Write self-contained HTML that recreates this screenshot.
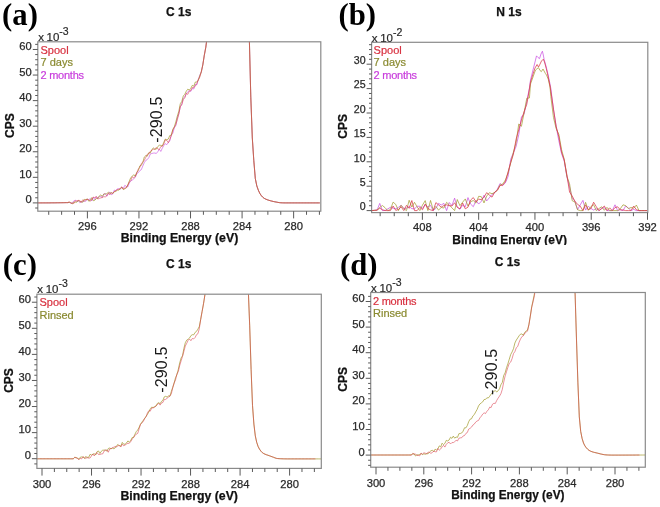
<!DOCTYPE html>
<html><head><meta charset="utf-8"><style>
html,body{margin:0;padding:0;background:#fff;width:660px;height:507px;overflow:hidden}
svg{display:block;filter:blur(0.35px)}
text{font-family:"Liberation Sans",sans-serif}
.tl{font-size:11px;fill:#2a2a2a;stroke:#2a2a2a;stroke-width:0.25px}
.tt{font-size:12px;font-weight:bold;fill:#111;stroke:#111;stroke-width:0.25px}
.ax{font-size:12px;font-weight:bold;fill:#111;stroke:#111;stroke-width:0.25px}
.lg{font-size:11px;stroke-width:0.2px}
.an{font-size:16px;letter-spacing:0.15px;fill:#1a1a1a}
.be{font-size:12.3px}
.xt{font-size:11.5px;fill:#2a2a2a;stroke:#2a2a2a;stroke-width:0.2px}
.sup{font-size:10.5px}
.pl{font-family:"Liberation Serif",serif;font-size:30.7px;font-weight:bold;fill:#000}
</style></head><body>
<svg width="660" height="507" viewBox="0 0 660 507">
<rect width="660" height="507" fill="#fff"/>
<defs></defs>
<clipPath id="ca"><rect x="37.8" y="41.8" width="283" height="169.4"/></clipPath>
<polyline clip-path="url(#ca)" points="37.8,202.9 39.3,202.9 40.8,202.9 42.3,202.89 43.8,202.89 45.3,202.88 46.8,202.88 48.3,202.87 49.8,202.86 51.3,202.84 52.8,202.83 54.3,202.82 55.8,202.8 57.3,202.78 58.8,202.76 60.3,202.74 61.8,202.72 63.3,202.7 64.8,202.67 66.3,202.64 67.8,202.61 69.3,202.48 70.8,203.1 72.3,203.02 73.8,200.89 75.3,200.22 76.8,201.42 78.3,200.85 79.8,202.7 81.3,202.06 82.8,201.5 84.3,201.11 85.8,201.24 87.3,199 88.8,199.83 90.3,198.45 91.8,200.88 93.3,197.22 94.8,199.67 96.3,196.43 97.8,198.35 99.3,196.59 100.8,196.39 102.3,197.56 103.8,193.91 105.3,193.53 106.8,196.22 108.3,194.1 109.8,191.92 111.3,194.72 112.8,193.93 114.3,190.1 115.8,190.6 117.3,188.83 118.8,188.82 120.3,189.33 121.8,187.01 123.3,188.47 124.8,185.34 126.3,186.34 127.8,186.94 129.3,182.97 130.8,180.78 132.3,179.99 133.8,178.72 135.3,177.36 136.8,173.52 138.3,172.61 139.8,170.61 141.3,169.66 142.8,165.99 144.3,162.57 145.8,160.4 147.3,159.54 148.8,157.63 150.3,154.02 151.8,153.44 153.3,153.13 154.8,153.02 156.3,153.47 157.8,151.61 159.3,149.21 160.8,151.45 162.3,148.24 163.8,145.57 165.3,143.67 166.8,144.64 168.3,142.63 169.8,140.7 171.3,135.03 172.8,133.27 174.3,127.9 175.8,125.46 177.3,118.07 178.8,113.64 180.3,107.01 181.8,103.92 183.3,98.2 184.8,96.95 186.3,93.64 187.8,91.74 189.3,90.72 190.8,91.4 192.3,88.51 193.8,89 195.3,84.39 196.8,84.86 198.3,79.6 199.8,75.11 201.3,71.86 202.8,64.88 204.3,55.25 205.8,47.28 207.3,36 208.8,36 210.3,36 211.8,36 213.3,36 214.8,36 216.3,36 217.8,36 219.3,36 220.8,36 222.3,36 223.8,36 225.3,36 226.8,36 228.3,36 229.8,36 231.3,36 232.8,36 234.3,36 235.8,36 237.3,36 238.8,36 240.3,36 241.8,36 243.3,36 244.8,36 246.3,36 247.8,36 249.3,37.11 250.8,97.29 252.3,137.86 253.8,160.6 255.3,178.5 256.8,185.87 258.3,190.15 259.8,193.37 261.3,195.59 262.8,197.27 264.3,198.38 265.8,199.15 267.3,199.76 268.8,200.27 270.3,200.71 271.8,201.12 273.3,201.48 274.8,201.79 276.3,202.07 277.8,202.36 279.3,202.62 280.8,202.78 282.3,202.84 283.8,202.88 285.3,202.9 286.8,202.9 288.3,202.9 289.8,202.9 291.3,202.9 292.8,202.9 294.3,202.9 295.8,202.9 297.3,202.9 298.8,202.9 300.3,202.9 301.8,202.9 303.3,202.9 304.8,202.9 306.3,202.9 307.8,202.9 309.3,202.9 310.8,202.9 312.3,202.9 313.8,202.9 315.3,202.9 316.8,202.9 318.3,202.9 319.8,202.9" fill="none" stroke="#c848e0" stroke-width="1.0" stroke-opacity="0.6" stroke-linejoin="round"/>
<polyline clip-path="url(#ca)" points="37.8,202.9 39.3,202.9 40.8,202.9 42.3,202.89 43.8,202.89 45.3,202.88 46.8,202.88 48.3,202.87 49.8,202.86 51.3,202.84 52.8,202.83 54.3,202.82 55.8,202.8 57.3,202.78 58.8,202.76 60.3,202.74 61.8,202.72 63.3,202.7 64.8,202.67 66.3,202.64 67.8,202.61 69.3,202.4 70.8,202.73 72.3,204 73.8,202.12 75.3,202.11 76.8,202.23 78.3,200.51 79.8,201.57 81.3,201.83 82.8,202.23 84.3,199.34 85.8,199.88 87.3,198.8 88.8,201.23 90.3,200.47 91.8,197.6 93.3,200.73 94.8,200.22 96.3,198.63 97.8,198.08 99.3,195.91 100.8,194.9 102.3,196.36 103.8,194.06 105.3,194.02 106.8,193.66 108.3,192.28 109.8,193.34 111.3,192.65 112.8,193.53 114.3,191.64 115.8,191.43 117.3,190.21 118.8,190.15 120.3,188.71 121.8,187.45 123.3,189.62 124.8,188.93 126.3,187.38 127.8,185.03 129.3,181.14 130.8,177.56 132.3,176.32 133.8,174.68 135.3,176.31 136.8,172.42 138.3,170.57 139.8,165.9 141.3,165.39 142.8,162.49 144.3,157.02 145.8,155.61 147.3,156.18 148.8,152.65 150.3,153.11 151.8,149.86 153.3,147.83 154.8,149.26 156.3,149.15 157.8,146.54 159.3,145.23 160.8,145.38 162.3,146.07 163.8,142.27 165.3,139.08 166.8,139.75 168.3,139.04 169.8,135.49 171.3,135.17 172.8,129.35 174.3,126.85 175.8,122.02 177.3,116.15 178.8,111.37 180.3,103.7 181.8,101.44 183.3,95.95 184.8,94.31 186.3,91.15 187.8,89.2 189.3,90.09 190.8,88.31 192.3,85.34 193.8,86.23 195.3,82.06 196.8,81.85 198.3,80.46 199.8,75.83 201.3,71.86 202.8,64.88 204.3,55.25 205.8,47.28 207.3,36 208.8,36 210.3,36 211.8,36 213.3,36 214.8,36 216.3,36 217.8,36 219.3,36 220.8,36 222.3,36 223.8,36 225.3,36 226.8,36 228.3,36 229.8,36 231.3,36 232.8,36 234.3,36 235.8,36 237.3,36 238.8,36 240.3,36 241.8,36 243.3,36 244.8,36 246.3,36 247.8,36 249.3,37.11 250.8,97.29 252.3,137.86 253.8,160.6 255.3,178.5 256.8,185.87 258.3,190.15 259.8,193.37 261.3,195.59 262.8,197.27 264.3,198.38 265.8,199.15 267.3,199.76 268.8,200.27 270.3,200.71 271.8,201.12 273.3,201.48 274.8,201.79 276.3,202.07 277.8,202.36 279.3,202.62 280.8,202.78 282.3,202.84 283.8,202.88 285.3,202.9 286.8,202.9 288.3,202.9 289.8,202.9 291.3,202.9 292.8,202.9 294.3,202.9 295.8,202.9 297.3,202.9 298.8,202.9 300.3,202.9 301.8,202.9 303.3,202.9 304.8,202.9 306.3,202.9 307.8,202.9 309.3,202.9 310.8,202.9 312.3,202.9 313.8,202.9 315.3,202.9 316.8,202.9 318.3,202.9 319.8,202.9" fill="none" stroke="#a09828" stroke-width="1.0" stroke-opacity="0.7" stroke-linejoin="round"/>
<polyline clip-path="url(#ca)" points="37.8,202.9 39.3,202.9 40.8,202.9 42.3,202.89 43.8,202.89 45.3,202.88 46.8,202.88 48.3,202.87 49.8,202.86 51.3,202.84 52.8,202.83 54.3,202.82 55.8,202.8 57.3,202.78 58.8,202.76 60.3,202.74 61.8,202.72 63.3,202.7 64.8,202.67 66.3,202.64 67.8,202.61 69.3,201.66 70.8,203.21 72.3,203.09 73.8,203.57 75.3,200.89 76.8,200.88 78.3,200.37 79.8,200.48 81.3,202.22 82.8,199.71 84.3,201 85.8,199.54 87.3,199.57 88.8,199.79 90.3,201.02 91.8,199.75 93.3,197.05 94.8,197.6 96.3,196.7 97.8,199.05 99.3,198.39 100.8,197.91 102.3,197.49 103.8,196.67 105.3,196.9 106.8,195.76 108.3,193.14 109.8,194.81 111.3,192.82 112.8,193.2 114.3,191.81 115.8,190.63 117.3,189.7 118.8,189.27 120.3,188.16 121.8,186.84 123.3,188.94 124.8,188.18 126.3,187.93 127.8,184.97 129.3,182.05 130.8,180.53 132.3,176.74 133.8,177.98 135.3,176.08 136.8,172.57 138.3,169.12 139.8,167.42 141.3,163.71 142.8,162.01 144.3,160.32 145.8,157.32 147.3,154.22 148.8,153.73 150.3,151.28 151.8,150.24 153.3,149.29 154.8,149.26 156.3,147.47 157.8,148.99 159.3,149.53 160.8,146.6 162.3,146.14 163.8,143.94 165.3,139.79 166.8,140.36 168.3,142.72 169.8,139.45 171.3,135.56 172.8,130.28 174.3,127.29 175.8,124.62 177.3,119.8 178.8,114.14 180.3,106.47 181.8,104.74 183.3,99.43 184.8,97.93 186.3,93.36 187.8,94.36 189.3,91.2 190.8,90.5 192.3,87.49 193.8,87.71 195.3,85.96 196.8,83.6 198.3,79.58 199.8,77.16 201.3,71.86 202.8,64.88 204.3,55.25 205.8,47.28 207.3,36 208.8,36 210.3,36 211.8,36 213.3,36 214.8,36 216.3,36 217.8,36 219.3,36 220.8,36 222.3,36 223.8,36 225.3,36 226.8,36 228.3,36 229.8,36 231.3,36 232.8,36 234.3,36 235.8,36 237.3,36 238.8,36 240.3,36 241.8,36 243.3,36 244.8,36 246.3,36 247.8,36 249.3,37.11 250.8,97.29 252.3,137.86 253.8,160.6 255.3,178.5 256.8,185.87 258.3,190.15 259.8,193.37 261.3,195.59 262.8,197.27 264.3,198.38 265.8,199.15 267.3,199.76 268.8,200.27 270.3,200.71 271.8,201.12 273.3,201.48 274.8,201.79 276.3,202.07 277.8,202.36 279.3,202.62 280.8,202.78 282.3,202.84 283.8,202.88 285.3,202.9 286.8,202.9 288.3,202.9 289.8,202.9 291.3,202.9 292.8,202.9 294.3,202.9 295.8,202.9 297.3,202.9 298.8,202.9 300.3,202.9 301.8,202.9 303.3,202.9 304.8,202.9 306.3,202.9 307.8,202.9 309.3,202.9 310.8,202.9 312.3,202.9 313.8,202.9 315.3,202.9 316.8,202.9 318.3,202.9 319.8,202.9" fill="none" stroke="#d83848" stroke-width="1.0" stroke-opacity="0.55" stroke-linejoin="round"/>
<rect x="37.8" y="41.8" width="283" height="169.4" fill="none" stroke="#8a8a8a" stroke-width="1.2"/>
<line x1="35.2" y1="208.01" x2="37.8" y2="208.01" stroke="#5a5a5a" stroke-width="1"/>
<line x1="32.8" y1="202.9" x2="37.8" y2="202.9" stroke="#5a5a5a" stroke-width="1"/>
<text x="31.8" y="203.4" text-anchor="end" class="tl" style="font-size:11.2px">0</text>
<line x1="35.2" y1="197.79" x2="37.8" y2="197.79" stroke="#5a5a5a" stroke-width="1"/>
<line x1="35.2" y1="192.67" x2="37.8" y2="192.67" stroke="#5a5a5a" stroke-width="1"/>
<line x1="35.2" y1="187.56" x2="37.8" y2="187.56" stroke="#5a5a5a" stroke-width="1"/>
<line x1="35.2" y1="182.44" x2="37.8" y2="182.44" stroke="#5a5a5a" stroke-width="1"/>
<line x1="32.8" y1="177.33" x2="37.8" y2="177.33" stroke="#5a5a5a" stroke-width="1"/>
<text x="31.8" y="177.83" text-anchor="end" class="tl" style="font-size:11.2px">10</text>
<line x1="35.2" y1="172.22" x2="37.8" y2="172.22" stroke="#5a5a5a" stroke-width="1"/>
<line x1="35.2" y1="167.1" x2="37.8" y2="167.1" stroke="#5a5a5a" stroke-width="1"/>
<line x1="35.2" y1="161.99" x2="37.8" y2="161.99" stroke="#5a5a5a" stroke-width="1"/>
<line x1="35.2" y1="156.87" x2="37.8" y2="156.87" stroke="#5a5a5a" stroke-width="1"/>
<line x1="32.8" y1="151.76" x2="37.8" y2="151.76" stroke="#5a5a5a" stroke-width="1"/>
<text x="31.8" y="152.26" text-anchor="end" class="tl" style="font-size:11.2px">20</text>
<line x1="35.2" y1="146.65" x2="37.8" y2="146.65" stroke="#5a5a5a" stroke-width="1"/>
<line x1="35.2" y1="141.53" x2="37.8" y2="141.53" stroke="#5a5a5a" stroke-width="1"/>
<line x1="35.2" y1="136.42" x2="37.8" y2="136.42" stroke="#5a5a5a" stroke-width="1"/>
<line x1="35.2" y1="131.3" x2="37.8" y2="131.3" stroke="#5a5a5a" stroke-width="1"/>
<line x1="32.8" y1="126.19" x2="37.8" y2="126.19" stroke="#5a5a5a" stroke-width="1"/>
<text x="31.8" y="126.69" text-anchor="end" class="tl" style="font-size:11.2px">30</text>
<line x1="35.2" y1="121.08" x2="37.8" y2="121.08" stroke="#5a5a5a" stroke-width="1"/>
<line x1="35.2" y1="115.96" x2="37.8" y2="115.96" stroke="#5a5a5a" stroke-width="1"/>
<line x1="35.2" y1="110.85" x2="37.8" y2="110.85" stroke="#5a5a5a" stroke-width="1"/>
<line x1="35.2" y1="105.73" x2="37.8" y2="105.73" stroke="#5a5a5a" stroke-width="1"/>
<line x1="32.8" y1="100.62" x2="37.8" y2="100.62" stroke="#5a5a5a" stroke-width="1"/>
<text x="31.8" y="101.12" text-anchor="end" class="tl" style="font-size:11.2px">40</text>
<line x1="35.2" y1="95.51" x2="37.8" y2="95.51" stroke="#5a5a5a" stroke-width="1"/>
<line x1="35.2" y1="90.39" x2="37.8" y2="90.39" stroke="#5a5a5a" stroke-width="1"/>
<line x1="35.2" y1="85.28" x2="37.8" y2="85.28" stroke="#5a5a5a" stroke-width="1"/>
<line x1="35.2" y1="80.16" x2="37.8" y2="80.16" stroke="#5a5a5a" stroke-width="1"/>
<line x1="32.8" y1="75.05" x2="37.8" y2="75.05" stroke="#5a5a5a" stroke-width="1"/>
<text x="31.8" y="75.55" text-anchor="end" class="tl" style="font-size:11.2px">50</text>
<line x1="35.2" y1="69.94" x2="37.8" y2="69.94" stroke="#5a5a5a" stroke-width="1"/>
<line x1="35.2" y1="64.82" x2="37.8" y2="64.82" stroke="#5a5a5a" stroke-width="1"/>
<line x1="35.2" y1="59.71" x2="37.8" y2="59.71" stroke="#5a5a5a" stroke-width="1"/>
<line x1="35.2" y1="54.59" x2="37.8" y2="54.59" stroke="#5a5a5a" stroke-width="1"/>
<line x1="32.8" y1="49.48" x2="37.8" y2="49.48" stroke="#5a5a5a" stroke-width="1"/>
<text x="31.8" y="49.98" text-anchor="end" class="tl" style="font-size:11.2px">60</text>
<line x1="35.2" y1="44.37" x2="37.8" y2="44.37" stroke="#5a5a5a" stroke-width="1"/>
<line x1="319.42" y1="211.2" x2="319.42" y2="214.8" stroke="#5a5a5a" stroke-width="1"/>
<line x1="306.53" y1="211.2" x2="306.53" y2="214.8" stroke="#5a5a5a" stroke-width="1"/>
<line x1="293.64" y1="211.2" x2="293.64" y2="218.4" stroke="#5a5a5a" stroke-width="1"/>
<text x="293.64" y="229.5" text-anchor="middle" class="tl" style="font-size:11.2px">280</text>
<line x1="280.75" y1="211.2" x2="280.75" y2="214.8" stroke="#5a5a5a" stroke-width="1"/>
<line x1="267.86" y1="211.2" x2="267.86" y2="214.8" stroke="#5a5a5a" stroke-width="1"/>
<line x1="254.97" y1="211.2" x2="254.97" y2="214.8" stroke="#5a5a5a" stroke-width="1"/>
<line x1="242.08" y1="211.2" x2="242.08" y2="218.4" stroke="#5a5a5a" stroke-width="1"/>
<text x="242.08" y="229.5" text-anchor="middle" class="tl" style="font-size:11.2px">284</text>
<line x1="229.19" y1="211.2" x2="229.19" y2="214.8" stroke="#5a5a5a" stroke-width="1"/>
<line x1="216.3" y1="211.2" x2="216.3" y2="214.8" stroke="#5a5a5a" stroke-width="1"/>
<line x1="203.41" y1="211.2" x2="203.41" y2="214.8" stroke="#5a5a5a" stroke-width="1"/>
<line x1="190.52" y1="211.2" x2="190.52" y2="218.4" stroke="#5a5a5a" stroke-width="1"/>
<text x="190.52" y="229.5" text-anchor="middle" class="tl" style="font-size:11.2px">288</text>
<line x1="177.63" y1="211.2" x2="177.63" y2="214.8" stroke="#5a5a5a" stroke-width="1"/>
<line x1="164.74" y1="211.2" x2="164.74" y2="214.8" stroke="#5a5a5a" stroke-width="1"/>
<line x1="151.85" y1="211.2" x2="151.85" y2="214.8" stroke="#5a5a5a" stroke-width="1"/>
<line x1="138.96" y1="211.2" x2="138.96" y2="218.4" stroke="#5a5a5a" stroke-width="1"/>
<text x="138.96" y="229.5" text-anchor="middle" class="tl" style="font-size:11.2px">292</text>
<line x1="126.07" y1="211.2" x2="126.07" y2="214.8" stroke="#5a5a5a" stroke-width="1"/>
<line x1="113.18" y1="211.2" x2="113.18" y2="214.8" stroke="#5a5a5a" stroke-width="1"/>
<line x1="100.29" y1="211.2" x2="100.29" y2="214.8" stroke="#5a5a5a" stroke-width="1"/>
<line x1="87.4" y1="211.2" x2="87.4" y2="218.4" stroke="#5a5a5a" stroke-width="1"/>
<text x="87.4" y="229.5" text-anchor="middle" class="tl" style="font-size:11.2px">296</text>
<line x1="74.51" y1="211.2" x2="74.51" y2="214.8" stroke="#5a5a5a" stroke-width="1"/>
<line x1="61.62" y1="211.2" x2="61.62" y2="214.8" stroke="#5a5a5a" stroke-width="1"/>
<line x1="48.73" y1="211.2" x2="48.73" y2="214.8" stroke="#5a5a5a" stroke-width="1"/>
<clipPath id="cb"><rect x="371.6" y="42.3" width="276.2" height="170.3"/></clipPath>
<polyline clip-path="url(#cb)" points="371.73,210.6 374.4,210.37 377.07,210.14 379.75,203.4 382.42,210.6 385.09,210.48 387.77,208.91 390.44,207.27 393.11,208.18 395.79,208.89 398.46,207.35 401.13,205.27 403.81,208.39 406.48,208.24 409.15,206.5 411.83,208.68 414.5,208.85 417.17,206.28 419.85,206.29 422.52,208.42 425.19,204.48 427.87,206.9 430.54,205.32 433.21,210.6 435.89,208.33 438.56,203.42 441.23,204.99 443.91,203.39 446.58,210.6 449.25,202.53 451.93,205.52 454.6,198.17 457.27,207.32 459.95,209.25 462.62,205.21 465.29,206.77 467.97,197.6 470.64,204.09 473.31,206.72 475.99,200.45 478.66,204.05 481.33,201.28 484.01,195.24 486.68,200.97 489.35,197.7 492.03,194.4 494.7,192.72 497.37,189.23 500.05,183.47 502.72,185.46 505.39,182.82 508.07,176.47 510.74,159.12 513.41,152.72 516.09,146.57 518.76,134.67 521.43,116.97 524.11,114 526.78,101.54 529.45,87.8 530.5,80 533,70 535,62 536.5,55.9 538,57.5 539.5,58.6 541,54 542.4,51.2 543.3,55 544.2,59.8 546,66 547.8,73.4 550,84 550.84,88.42 553.51,109.93 556.19,126.84 558.86,140.89 561.53,153.33 564.21,161.07 566.88,176.72 569.55,186.8 572.23,198.46 574.9,201.02 577.57,209.67 580.25,204.86 582.92,200.36 585.59,210.1 588.27,206.32 590.94,208.47 593.61,210.07 596.29,208.68 598.96,210.6 601.63,208.17 604.31,207.66 606.98,210.6 609.65,210.6 612.32,210.6 615,204.81 617.67,210.6 620.34,209.76 623.02,210.6 625.69,205.95 628.36,208.06 631.04,210.6 633.71,209.4 636.38,210.6 639.06,210.6 641.73,210.6 644.4,210.6 647.08,210.6" fill="none" stroke="#c848e0" stroke-width="1.0" stroke-opacity="0.7" stroke-linejoin="round"/>
<polyline clip-path="url(#cb)" points="371.73,210.6 374.4,210.37 377.07,210.14 379.75,207.47 382.42,205.5 385.09,207.71 387.77,210.6 390.44,209.45 393.11,202.12 395.79,204.46 398.46,210.6 401.13,205.32 403.81,208.71 406.48,210.6 409.15,200.25 411.83,207.04 414.5,202.33 417.17,206.98 419.85,210.6 422.52,205.05 425.19,200.62 427.87,210.6 430.54,200.46 433.21,210 435.89,206.39 438.56,210.1 441.23,207.46 443.91,208.06 446.58,202.33 449.25,204.86 451.93,207.86 454.6,210.6 457.27,199.56 459.95,205.65 462.62,202.21 465.29,198.93 467.97,206.09 470.64,201.63 473.31,200.58 475.99,203.17 478.66,196.3 481.33,196.68 484.01,202.93 486.68,196.1 489.35,192.71 492.03,193.69 494.7,192.39 497.37,190.26 500.05,184.92 502.72,184.07 505.39,180 508.07,173.05 510.74,162.81 513.41,152.14 516.09,142.63 518.76,123.99 521.43,126.31 524.11,112.67 526.78,98.24 529.45,97.93 530.5,84 533,77 535.5,70 538.5,67.6 540,70.5 541.4,71.6 543,69 545.4,73.5 546.5,75 548.3,79.4 550,87 550.84,96.58 553.51,117.65 556.19,128.65 558.86,134.41 561.53,149.4 564.21,159.29 566.88,176.26 569.55,183.75 572.23,200.78 574.9,201.92 577.57,209.77 580.25,210.6 582.92,210.6 585.59,202.33 588.27,210.27 590.94,206.49 593.61,204.7 596.29,210.6 598.96,208.55 601.63,206.75 604.31,210.31 606.98,207.34 609.65,210.6 612.32,210.6 615,210.6 617.67,210.6 620.34,208.74 623.02,204.82 625.69,205.66 628.36,208.59 631.04,207.51 633.71,208.26 636.38,205.07 639.06,210.6 641.73,210.6 644.4,210.6 647.08,210.6" fill="none" stroke="#a09828" stroke-width="1.0" stroke-opacity="0.7" stroke-linejoin="round"/>
<polyline clip-path="url(#cb)" points="371.73,210.6 374.4,210.37 377.07,210.14 379.75,208.2 382.42,209.78 385.09,210.53 387.77,210.6 390.44,210.6 393.11,206.04 395.79,210.39 398.46,209.47 401.13,206.88 403.81,210.6 406.48,205.32 409.15,208.32 411.83,200.54 414.5,210.6 417.17,210.6 419.85,207.31 422.52,209.77 425.19,204.18 427.87,208.49 430.54,209.89 433.21,210.6 435.89,202.61 438.56,204.85 441.23,207.13 443.91,205.52 446.58,204.82 449.25,205.67 451.93,205.96 454.6,202.78 457.27,207.24 459.95,208.74 462.62,202.97 465.29,208.81 467.97,207.17 470.64,200.03 473.31,197.6 475.99,201.83 478.66,199.18 481.33,199.64 484.01,197.19 486.68,192.65 489.35,195.06 492.03,197.13 494.7,192.17 497.37,190.28 500.05,185.6 502.72,185.18 505.39,181.7 508.07,171.86 510.74,162.4 513.41,154.22 516.09,139.22 518.76,129.81 521.43,120.14 524.11,111.45 526.78,104.3 529.45,88.86 530.5,82 533,74 535,68 537.1,64.5 538.5,67 540,64.1 541.5,61 543.3,59.2 544.5,62 546.3,68.7 548,76 550,86 550.84,91.17 553.51,109.19 556.19,126.64 558.86,136.92 561.53,152.12 564.21,159.87 566.88,174.88 569.55,192.03 572.23,196.05 574.9,201.16 577.57,204.39 580.25,206.19 582.92,210.6 585.59,204.88 588.27,209.76 590.94,208.59 593.61,202.23 596.29,206.73 598.96,210.6 601.63,208.66 604.31,206 606.98,210.6 609.65,207.83 612.32,210.6 615,207.62 617.67,206.81 620.34,209.9 623.02,209.95 625.69,210.6 628.36,210.6 631.04,210.6 633.71,206.03 636.38,209.71 639.06,210.6 641.73,210.6 644.4,210.6 647.08,210.6" fill="none" stroke="#d83848" stroke-width="1.0" stroke-opacity="0.75" stroke-linejoin="round"/>
<rect x="371.6" y="42.3" width="276.2" height="170.3" fill="none" stroke="#8a8a8a" stroke-width="1.2"/>
<line x1="366.6" y1="210.6" x2="371.6" y2="210.6" stroke="#5a5a5a" stroke-width="1"/>
<text x="365.6" y="210.3" text-anchor="end" class="tl" style="font-size:10.6px">0</text>
<line x1="369" y1="205.72" x2="371.6" y2="205.72" stroke="#5a5a5a" stroke-width="1"/>
<line x1="369" y1="200.84" x2="371.6" y2="200.84" stroke="#5a5a5a" stroke-width="1"/>
<line x1="369" y1="195.96" x2="371.6" y2="195.96" stroke="#5a5a5a" stroke-width="1"/>
<line x1="369" y1="191.08" x2="371.6" y2="191.08" stroke="#5a5a5a" stroke-width="1"/>
<line x1="366.6" y1="186.2" x2="371.6" y2="186.2" stroke="#5a5a5a" stroke-width="1"/>
<text x="365.6" y="185.9" text-anchor="end" class="tl" style="font-size:10.6px">5</text>
<line x1="369" y1="181.32" x2="371.6" y2="181.32" stroke="#5a5a5a" stroke-width="1"/>
<line x1="369" y1="176.44" x2="371.6" y2="176.44" stroke="#5a5a5a" stroke-width="1"/>
<line x1="369" y1="171.56" x2="371.6" y2="171.56" stroke="#5a5a5a" stroke-width="1"/>
<line x1="369" y1="166.68" x2="371.6" y2="166.68" stroke="#5a5a5a" stroke-width="1"/>
<line x1="366.6" y1="161.8" x2="371.6" y2="161.8" stroke="#5a5a5a" stroke-width="1"/>
<text x="365.6" y="161.5" text-anchor="end" class="tl" style="font-size:10.6px">10</text>
<line x1="369" y1="156.92" x2="371.6" y2="156.92" stroke="#5a5a5a" stroke-width="1"/>
<line x1="369" y1="152.04" x2="371.6" y2="152.04" stroke="#5a5a5a" stroke-width="1"/>
<line x1="369" y1="147.16" x2="371.6" y2="147.16" stroke="#5a5a5a" stroke-width="1"/>
<line x1="369" y1="142.28" x2="371.6" y2="142.28" stroke="#5a5a5a" stroke-width="1"/>
<line x1="366.6" y1="137.4" x2="371.6" y2="137.4" stroke="#5a5a5a" stroke-width="1"/>
<text x="365.6" y="137.1" text-anchor="end" class="tl" style="font-size:10.6px">15</text>
<line x1="369" y1="132.52" x2="371.6" y2="132.52" stroke="#5a5a5a" stroke-width="1"/>
<line x1="369" y1="127.64" x2="371.6" y2="127.64" stroke="#5a5a5a" stroke-width="1"/>
<line x1="369" y1="122.76" x2="371.6" y2="122.76" stroke="#5a5a5a" stroke-width="1"/>
<line x1="369" y1="117.88" x2="371.6" y2="117.88" stroke="#5a5a5a" stroke-width="1"/>
<line x1="366.6" y1="113" x2="371.6" y2="113" stroke="#5a5a5a" stroke-width="1"/>
<text x="365.6" y="112.7" text-anchor="end" class="tl" style="font-size:10.6px">20</text>
<line x1="369" y1="108.12" x2="371.6" y2="108.12" stroke="#5a5a5a" stroke-width="1"/>
<line x1="369" y1="103.24" x2="371.6" y2="103.24" stroke="#5a5a5a" stroke-width="1"/>
<line x1="369" y1="98.36" x2="371.6" y2="98.36" stroke="#5a5a5a" stroke-width="1"/>
<line x1="369" y1="93.48" x2="371.6" y2="93.48" stroke="#5a5a5a" stroke-width="1"/>
<line x1="366.6" y1="88.6" x2="371.6" y2="88.6" stroke="#5a5a5a" stroke-width="1"/>
<text x="365.6" y="88.3" text-anchor="end" class="tl" style="font-size:10.6px">25</text>
<line x1="369" y1="83.72" x2="371.6" y2="83.72" stroke="#5a5a5a" stroke-width="1"/>
<line x1="369" y1="78.84" x2="371.6" y2="78.84" stroke="#5a5a5a" stroke-width="1"/>
<line x1="369" y1="73.96" x2="371.6" y2="73.96" stroke="#5a5a5a" stroke-width="1"/>
<line x1="369" y1="69.08" x2="371.6" y2="69.08" stroke="#5a5a5a" stroke-width="1"/>
<line x1="366.6" y1="64.2" x2="371.6" y2="64.2" stroke="#5a5a5a" stroke-width="1"/>
<text x="365.6" y="63.9" text-anchor="end" class="tl" style="font-size:10.6px">30</text>
<line x1="369" y1="59.32" x2="371.6" y2="59.32" stroke="#5a5a5a" stroke-width="1"/>
<line x1="369" y1="54.44" x2="371.6" y2="54.44" stroke="#5a5a5a" stroke-width="1"/>
<line x1="369" y1="49.56" x2="371.6" y2="49.56" stroke="#5a5a5a" stroke-width="1"/>
<line x1="369" y1="44.68" x2="371.6" y2="44.68" stroke="#5a5a5a" stroke-width="1"/>
<line x1="647.5" y1="212.6" x2="647.5" y2="219.8" stroke="#5a5a5a" stroke-width="1"/>
<text x="647.5" y="230.5" text-anchor="middle" class="tl" style="font-size:11.2px">392</text>
<line x1="633.43" y1="212.6" x2="633.43" y2="216.2" stroke="#5a5a5a" stroke-width="1"/>
<line x1="619.36" y1="212.6" x2="619.36" y2="216.2" stroke="#5a5a5a" stroke-width="1"/>
<line x1="605.29" y1="212.6" x2="605.29" y2="216.2" stroke="#5a5a5a" stroke-width="1"/>
<line x1="591.22" y1="212.6" x2="591.22" y2="219.8" stroke="#5a5a5a" stroke-width="1"/>
<text x="591.22" y="230.5" text-anchor="middle" class="tl" style="font-size:11.2px">396</text>
<line x1="577.15" y1="212.6" x2="577.15" y2="216.2" stroke="#5a5a5a" stroke-width="1"/>
<line x1="563.08" y1="212.6" x2="563.08" y2="216.2" stroke="#5a5a5a" stroke-width="1"/>
<line x1="549.01" y1="212.6" x2="549.01" y2="216.2" stroke="#5a5a5a" stroke-width="1"/>
<line x1="534.94" y1="212.6" x2="534.94" y2="219.8" stroke="#5a5a5a" stroke-width="1"/>
<text x="534.94" y="230.5" text-anchor="middle" class="tl" style="font-size:11.2px">400</text>
<line x1="520.87" y1="212.6" x2="520.87" y2="216.2" stroke="#5a5a5a" stroke-width="1"/>
<line x1="506.8" y1="212.6" x2="506.8" y2="216.2" stroke="#5a5a5a" stroke-width="1"/>
<line x1="492.73" y1="212.6" x2="492.73" y2="216.2" stroke="#5a5a5a" stroke-width="1"/>
<line x1="478.66" y1="212.6" x2="478.66" y2="219.8" stroke="#5a5a5a" stroke-width="1"/>
<text x="478.66" y="230.5" text-anchor="middle" class="tl" style="font-size:11.2px">404</text>
<line x1="464.59" y1="212.6" x2="464.59" y2="216.2" stroke="#5a5a5a" stroke-width="1"/>
<line x1="450.52" y1="212.6" x2="450.52" y2="216.2" stroke="#5a5a5a" stroke-width="1"/>
<line x1="436.45" y1="212.6" x2="436.45" y2="216.2" stroke="#5a5a5a" stroke-width="1"/>
<line x1="422.38" y1="212.6" x2="422.38" y2="219.8" stroke="#5a5a5a" stroke-width="1"/>
<text x="422.38" y="230.5" text-anchor="middle" class="tl" style="font-size:11.2px">408</text>
<line x1="408.31" y1="212.6" x2="408.31" y2="216.2" stroke="#5a5a5a" stroke-width="1"/>
<line x1="394.24" y1="212.6" x2="394.24" y2="216.2" stroke="#5a5a5a" stroke-width="1"/>
<line x1="380.17" y1="212.6" x2="380.17" y2="216.2" stroke="#5a5a5a" stroke-width="1"/>
<clipPath id="cc"><rect x="36.9" y="294.2" width="284.4" height="174.2"/></clipPath>
<polyline clip-path="url(#cc)" points="36.9,458.8 38.3,458.8 39.7,458.8 41.1,458.8 42.5,458.8 43.9,458.8 45.3,458.8 46.7,458.8 48.1,458.8 49.5,458.8 50.9,458.8 52.3,458.8 53.7,458.8 55.1,458.8 56.5,458.8 57.9,458.8 59.3,458.8 60.7,458.8 62.1,458.8 63.5,458.8 64.9,458.8 66.3,458.8 67.7,458.8 69.1,458.8 70.5,458.8 71.9,458.8 73.3,458.8 74.7,457.24 76.1,457.53 77.5,458.34 78.9,459.14 80.3,457.22 81.7,456.93 83.1,457.08 84.5,458.52 85.9,456.3 87.3,457.92 88.7,457.27 90.1,454.3 91.5,455.04 92.9,454.21 94.3,453.59 95.7,454.99 97.1,451.65 98.5,450.97 99.9,453.47 101.3,451.31 102.7,450.2 104.1,450.18 105.5,449.86 106.9,451.31 108.3,448.49 109.7,448.04 111.1,448.73 112.5,448.08 113.9,448.78 115.3,447.77 116.7,445.57 118.1,444.46 119.5,445.93 120.9,445.93 122.3,442.41 123.7,444.23 125.1,444.18 126.5,442.96 127.9,440.94 129.3,442.03 130.7,440.74 132.1,437.62 133.5,437.41 134.9,434.27 136.3,431.57 137.7,430.04 139.1,427.29 140.5,424.18 141.9,422.13 143.3,420.31 144.7,418.49 146.1,416.34 147.5,414.27 148.9,411.73 150.3,408.7 151.7,407.13 153.1,407.6 154.5,406.58 155.9,406.25 157.3,403.47 158.7,402.66 160.1,403.72 161.5,401.37 162.9,400.33 164.3,396.83 165.7,396.32 167.1,397.1 168.5,395.89 169.9,396.26 171.3,391.54 172.7,387.44 174.1,383.15 175.5,377.76 176.9,374.71 178.3,369.35 179.7,363.02 181.1,357.98 182.5,355.72 183.9,348.37 185.3,342.74 186.7,340.13 188.1,339.24 189.5,338.14 190.9,335.66 192.3,334.68 193.7,334.85 195.1,332.38 196.5,331.37 197.9,329.15 199.3,326.48 200.7,319.32 202.1,311.49 203.5,303.8 204.9,294.94 206.3,282.15 207.7,281.82 209.1,281.64 210.5,281.48 211.9,281.32 213.3,281.18 214.7,281.05 216.1,280.92 217.5,280.81 218.9,280.71 220.3,280.62 221.7,280.53 223.1,280.45 224.5,280.38 225.9,280.32 227.3,280.27 228.7,280.22 230.1,280.18 231.5,280.14 232.9,280.11 234.3,280.08 235.7,280.06 237.1,280.04 238.5,280.03 239.9,280.02 241.3,280.01 242.7,280.01 244.1,280 245.5,280 246.9,280 248.3,289.99 249.7,325.83 251.1,369.49 252.5,405.36 253.9,424.08 255.3,435.89 256.7,442.3 258.1,446.45 259.5,449.18 260.9,451.14 262.3,452.61 263.7,453.55 265.1,454.23 266.5,454.76 267.9,455.23 269.3,455.72 270.7,456.26 272.1,456.77 273.5,457.27 274.9,457.83 276.3,458.33 277.7,458.55 279.1,458.66 280.5,458.73 281.9,458.79 283.3,458.83 284.7,458.87 286.1,458.89 287.5,458.9 288.9,458.9 290.3,458.9 291.7,458.9 293.1,458.9 294.5,458.9 295.9,458.9 297.3,458.9 298.7,458.9 300.1,458.9 301.5,458.9 302.9,458.9 304.3,458.9 305.7,458.9 307.1,458.9 308.5,458.9 309.9,458.9 311.3,458.9 312.7,458.9 314.1,458.9 315.5,458.9 316.9,458.9 318.3,458.9 319.7,458.9 321.1,458.9" fill="none" stroke="#a09828" stroke-width="1.0" stroke-opacity="0.7" stroke-linejoin="round"/>
<polyline clip-path="url(#cc)" points="36.9,458.8 38.3,458.8 39.7,458.8 41.1,458.8 42.5,458.8 43.9,458.8 45.3,458.8 46.7,458.8 48.1,458.8 49.5,458.8 50.9,458.8 52.3,458.8 53.7,458.8 55.1,458.8 56.5,458.8 57.9,458.8 59.3,458.8 60.7,458.8 62.1,458.8 63.5,458.8 64.9,458.8 66.3,458.8 67.7,458.8 69.1,458.8 70.5,458.8 71.9,458.8 73.3,458.8 74.7,457.45 76.1,457.85 77.5,458.05 78.9,459.83 80.3,458.36 81.7,458.88 83.1,456.66 84.5,457.72 85.9,458.53 87.3,457.22 88.7,458.17 90.1,457.98 91.5,455.81 92.9,454.08 94.3,455.98 95.7,453.51 97.1,452.68 98.5,454.55 99.9,454.46 101.3,453.99 102.7,453.92 104.1,451.07 105.5,450.25 106.9,449.94 108.3,452.24 109.7,449.01 111.1,448.67 112.5,447.69 113.9,447.18 115.3,446.5 116.7,446.86 118.1,445.63 119.5,445.54 120.9,447.03 122.3,444.15 123.7,445.78 125.1,445.07 126.5,443.99 127.9,443.39 129.3,443.24 130.7,441.58 132.1,439.04 133.5,437.72 134.9,435.65 136.3,434.02 137.7,433.43 139.1,428.88 140.5,424.43 141.9,422.88 143.3,421.54 144.7,418.14 146.1,416.77 147.5,412.68 148.9,410.7 150.3,411.14 151.7,408.02 153.1,407.87 154.5,407.36 155.9,406.01 157.3,404.59 158.7,403.36 160.1,405.12 161.5,402.95 162.9,402.45 164.3,399.4 165.7,399.39 167.1,398.25 168.5,397.09 169.9,396.07 171.3,393.84 172.7,388 174.1,383.09 175.5,379.95 176.9,374.11 178.3,371.57 179.7,365.57 181.1,360.9 182.5,356.51 183.9,351.36 185.3,346.06 186.7,343.35 188.1,340.46 189.5,339 190.9,340.68 192.3,338.49 193.7,338.93 195.1,337.49 196.5,334.69 197.9,333.78 199.3,328.7 200.7,319.32 202.1,311.49 203.5,303.8 204.9,294.94 206.3,282.15 207.7,281.82 209.1,281.64 210.5,281.48 211.9,281.32 213.3,281.18 214.7,281.05 216.1,280.92 217.5,280.81 218.9,280.71 220.3,280.62 221.7,280.53 223.1,280.45 224.5,280.38 225.9,280.32 227.3,280.27 228.7,280.22 230.1,280.18 231.5,280.14 232.9,280.11 234.3,280.08 235.7,280.06 237.1,280.04 238.5,280.03 239.9,280.02 241.3,280.01 242.7,280.01 244.1,280 245.5,280 246.9,280 248.3,289.99 249.7,325.83 251.1,369.49 252.5,405.36 253.9,424.08 255.3,435.89 256.7,442.3 258.1,446.45 259.5,449.18 260.9,451.14 262.3,452.61 263.7,453.55 265.1,454.23 266.5,454.76 267.9,455.23 269.3,455.72 270.7,456.26 272.1,456.77 273.5,457.27 274.9,457.83 276.3,458.33 277.7,458.55 279.1,458.66 280.5,458.73 281.9,458.79 283.3,458.83 284.7,458.87 286.1,458.89 287.5,458.9 288.9,458.9 290.3,458.9 291.7,458.9 293.1,458.9 294.5,458.9 295.9,458.9 297.3,458.9 298.7,458.9 300.1,458.9 301.5,458.9 302.9,458.9 304.3,458.9 305.7,458.9 307.1,458.9 308.5,458.9 309.9,458.9 311.3,458.9 312.7,458.9 314.1,458.9 315.5,458.9" fill="none" stroke="#d83848" stroke-width="1.0" stroke-opacity="0.55" stroke-linejoin="round"/>
<rect x="36.9" y="294.2" width="284.4" height="174.2" fill="none" stroke="#8a8a8a" stroke-width="1.2"/>
<line x1="34.3" y1="463.92" x2="36.9" y2="463.92" stroke="#5a5a5a" stroke-width="1"/>
<line x1="31.9" y1="458.7" x2="36.9" y2="458.7" stroke="#5a5a5a" stroke-width="1"/>
<text x="30.9" y="459.2" text-anchor="end" class="tl" style="font-size:11.2px">0</text>
<line x1="34.3" y1="453.48" x2="36.9" y2="453.48" stroke="#5a5a5a" stroke-width="1"/>
<line x1="34.3" y1="448.27" x2="36.9" y2="448.27" stroke="#5a5a5a" stroke-width="1"/>
<line x1="34.3" y1="443.05" x2="36.9" y2="443.05" stroke="#5a5a5a" stroke-width="1"/>
<line x1="34.3" y1="437.84" x2="36.9" y2="437.84" stroke="#5a5a5a" stroke-width="1"/>
<line x1="31.9" y1="432.62" x2="36.9" y2="432.62" stroke="#5a5a5a" stroke-width="1"/>
<text x="30.9" y="433.12" text-anchor="end" class="tl" style="font-size:11.2px">10</text>
<line x1="34.3" y1="427.4" x2="36.9" y2="427.4" stroke="#5a5a5a" stroke-width="1"/>
<line x1="34.3" y1="422.19" x2="36.9" y2="422.19" stroke="#5a5a5a" stroke-width="1"/>
<line x1="34.3" y1="416.97" x2="36.9" y2="416.97" stroke="#5a5a5a" stroke-width="1"/>
<line x1="34.3" y1="411.76" x2="36.9" y2="411.76" stroke="#5a5a5a" stroke-width="1"/>
<line x1="31.9" y1="406.54" x2="36.9" y2="406.54" stroke="#5a5a5a" stroke-width="1"/>
<text x="30.9" y="407.04" text-anchor="end" class="tl" style="font-size:11.2px">20</text>
<line x1="34.3" y1="401.32" x2="36.9" y2="401.32" stroke="#5a5a5a" stroke-width="1"/>
<line x1="34.3" y1="396.11" x2="36.9" y2="396.11" stroke="#5a5a5a" stroke-width="1"/>
<line x1="34.3" y1="390.89" x2="36.9" y2="390.89" stroke="#5a5a5a" stroke-width="1"/>
<line x1="34.3" y1="385.68" x2="36.9" y2="385.68" stroke="#5a5a5a" stroke-width="1"/>
<line x1="31.9" y1="380.46" x2="36.9" y2="380.46" stroke="#5a5a5a" stroke-width="1"/>
<text x="30.9" y="380.96" text-anchor="end" class="tl" style="font-size:11.2px">30</text>
<line x1="34.3" y1="375.24" x2="36.9" y2="375.24" stroke="#5a5a5a" stroke-width="1"/>
<line x1="34.3" y1="370.03" x2="36.9" y2="370.03" stroke="#5a5a5a" stroke-width="1"/>
<line x1="34.3" y1="364.81" x2="36.9" y2="364.81" stroke="#5a5a5a" stroke-width="1"/>
<line x1="34.3" y1="359.6" x2="36.9" y2="359.6" stroke="#5a5a5a" stroke-width="1"/>
<line x1="31.9" y1="354.38" x2="36.9" y2="354.38" stroke="#5a5a5a" stroke-width="1"/>
<text x="30.9" y="354.88" text-anchor="end" class="tl" style="font-size:11.2px">40</text>
<line x1="34.3" y1="349.16" x2="36.9" y2="349.16" stroke="#5a5a5a" stroke-width="1"/>
<line x1="34.3" y1="343.95" x2="36.9" y2="343.95" stroke="#5a5a5a" stroke-width="1"/>
<line x1="34.3" y1="338.73" x2="36.9" y2="338.73" stroke="#5a5a5a" stroke-width="1"/>
<line x1="34.3" y1="333.52" x2="36.9" y2="333.52" stroke="#5a5a5a" stroke-width="1"/>
<line x1="31.9" y1="328.3" x2="36.9" y2="328.3" stroke="#5a5a5a" stroke-width="1"/>
<text x="30.9" y="328.8" text-anchor="end" class="tl" style="font-size:11.2px">50</text>
<line x1="34.3" y1="323.08" x2="36.9" y2="323.08" stroke="#5a5a5a" stroke-width="1"/>
<line x1="34.3" y1="317.87" x2="36.9" y2="317.87" stroke="#5a5a5a" stroke-width="1"/>
<line x1="34.3" y1="312.65" x2="36.9" y2="312.65" stroke="#5a5a5a" stroke-width="1"/>
<line x1="34.3" y1="307.44" x2="36.9" y2="307.44" stroke="#5a5a5a" stroke-width="1"/>
<line x1="31.9" y1="302.22" x2="36.9" y2="302.22" stroke="#5a5a5a" stroke-width="1"/>
<text x="30.9" y="302.72" text-anchor="end" class="tl" style="font-size:11.2px">60</text>
<line x1="34.3" y1="297" x2="36.9" y2="297" stroke="#5a5a5a" stroke-width="1"/>
<line x1="314.36" y1="468.4" x2="314.36" y2="472" stroke="#5a5a5a" stroke-width="1"/>
<line x1="301.98" y1="468.4" x2="301.98" y2="472" stroke="#5a5a5a" stroke-width="1"/>
<line x1="289.6" y1="468.4" x2="289.6" y2="475.6" stroke="#5a5a5a" stroke-width="1"/>
<text x="289.6" y="487.5" text-anchor="middle" class="tl" style="font-size:11.2px">280</text>
<line x1="277.22" y1="468.4" x2="277.22" y2="472" stroke="#5a5a5a" stroke-width="1"/>
<line x1="264.84" y1="468.4" x2="264.84" y2="472" stroke="#5a5a5a" stroke-width="1"/>
<line x1="252.46" y1="468.4" x2="252.46" y2="472" stroke="#5a5a5a" stroke-width="1"/>
<line x1="240.08" y1="468.4" x2="240.08" y2="475.6" stroke="#5a5a5a" stroke-width="1"/>
<text x="240.08" y="487.5" text-anchor="middle" class="tl" style="font-size:11.2px">284</text>
<line x1="227.7" y1="468.4" x2="227.7" y2="472" stroke="#5a5a5a" stroke-width="1"/>
<line x1="215.32" y1="468.4" x2="215.32" y2="472" stroke="#5a5a5a" stroke-width="1"/>
<line x1="202.94" y1="468.4" x2="202.94" y2="472" stroke="#5a5a5a" stroke-width="1"/>
<line x1="190.56" y1="468.4" x2="190.56" y2="475.6" stroke="#5a5a5a" stroke-width="1"/>
<text x="190.56" y="487.5" text-anchor="middle" class="tl" style="font-size:11.2px">288</text>
<line x1="178.18" y1="468.4" x2="178.18" y2="472" stroke="#5a5a5a" stroke-width="1"/>
<line x1="165.8" y1="468.4" x2="165.8" y2="472" stroke="#5a5a5a" stroke-width="1"/>
<line x1="153.42" y1="468.4" x2="153.42" y2="472" stroke="#5a5a5a" stroke-width="1"/>
<line x1="141.04" y1="468.4" x2="141.04" y2="475.6" stroke="#5a5a5a" stroke-width="1"/>
<text x="141.04" y="487.5" text-anchor="middle" class="tl" style="font-size:11.2px">292</text>
<line x1="128.66" y1="468.4" x2="128.66" y2="472" stroke="#5a5a5a" stroke-width="1"/>
<line x1="116.28" y1="468.4" x2="116.28" y2="472" stroke="#5a5a5a" stroke-width="1"/>
<line x1="103.9" y1="468.4" x2="103.9" y2="472" stroke="#5a5a5a" stroke-width="1"/>
<line x1="91.52" y1="468.4" x2="91.52" y2="475.6" stroke="#5a5a5a" stroke-width="1"/>
<text x="91.52" y="487.5" text-anchor="middle" class="tl" style="font-size:11.2px">296</text>
<line x1="79.14" y1="468.4" x2="79.14" y2="472" stroke="#5a5a5a" stroke-width="1"/>
<line x1="66.76" y1="468.4" x2="66.76" y2="472" stroke="#5a5a5a" stroke-width="1"/>
<line x1="54.38" y1="468.4" x2="54.38" y2="472" stroke="#5a5a5a" stroke-width="1"/>
<line x1="42" y1="468.4" x2="42" y2="475.6" stroke="#5a5a5a" stroke-width="1"/>
<text x="42" y="487.5" text-anchor="middle" class="tl" style="font-size:11.2px">300</text>
<clipPath id="cd"><rect x="370.7" y="292.5" width="274.6" height="174.7"/></clipPath>
<polyline clip-path="url(#cd)" points="370.7,455 372.1,455 373.5,455 374.9,455 376.3,455 377.7,455 379.1,455 380.5,455 381.9,455 383.3,455 384.7,455 386.1,455 387.5,455 388.9,455 390.3,455 391.7,455 393.1,455 394.5,455 395.9,455 397.3,455 398.7,455 400.1,455 401.5,455 402.9,455 404.3,455 405.7,455 407.1,455 408.5,455 409.9,454.99 411.3,454.57 412.7,454.02 414.1,453.72 415.5,455.99 416.9,454.78 418.3,454.98 419.7,454.36 421.1,453.63 422.5,454.54 423.9,453.84 425.3,454.27 426.7,453.61 428.1,453.84 429.5,452.16 430.9,450.81 432.3,450.29 433.7,451.57 435.1,449.19 436.5,449.97 437.9,448.85 439.3,445.88 440.7,446.93 442.1,443.22 443.5,444.63 444.9,443.39 446.3,440.35 447.7,440.94 449.1,440 450.5,437.25 451.9,438.36 453.3,436.11 454.7,438.19 456.1,437 457.5,437.37 458.9,433.69 460.3,433.51 461.7,433.01 463.1,431.18 464.5,427.79 465.9,427.88 467.3,425.55 468.7,421.68 470.1,419.17 471.5,418.8 472.9,415.88 474.3,414.59 475.7,411.93 477.1,409.48 478.5,405.99 479.9,404.01 481.3,402.87 482.7,401.88 484.1,399.52 485.5,399.42 486.9,397.8 488.3,397.97 489.7,396.28 491.1,394.16 492.5,392.63 493.9,391.49 495.3,390.47 496.7,392.04 498.1,390.81 499.5,388.85 500.9,384.74 502.3,382.46 503.7,375.47 505.1,372.93 506.5,367.77 507.9,363.76 509.3,359.16 510.7,354.5 512.1,351.95 513.5,348.67 514.9,342.98 516.3,340.1 517.7,337.97 519.1,335.77 520.5,334.17 521.9,333.93 523.3,335.26 524.7,332.48 526.1,330.97 527.5,330.15 528.9,324.59 530.3,316.08 531.7,306.75 533.1,300.22 534.5,293.27 535.9,280.22 537.3,280 538.7,280 540.1,280 541.5,280 542.9,280 544.3,280 545.7,280 547.1,280 548.5,280 549.9,280 551.3,280 552.7,280 554.1,280 555.5,280 556.9,280 558.3,280 559.7,280 561.1,280 562.5,280 563.9,280 565.3,280 566.7,280 568.1,280 569.5,280 570.9,280 572.3,280 573.7,280 575.1,293.87 576.5,339.97 577.9,382.82 579.3,416.88 580.7,431.38 582.1,438.49 583.5,443.03 584.9,445.85 586.3,447.77 587.7,449.27 589.1,450.38 590.5,451.14 591.9,451.69 593.3,452.13 594.7,452.49 596.1,452.82 597.5,453.15 598.9,453.5 600.3,453.86 601.7,454.2 603.1,454.49 604.5,454.73 605.9,454.88 607.3,454.96 608.7,455.02 610.1,455.07 611.5,455.1 612.9,455.1 614.3,455.1 615.7,455.1 617.1,455.1 618.5,455.1 619.9,455.1 621.3,455.1 622.7,455.1 624.1,455.1 625.5,455.09 626.9,455.09 628.3,455.09 629.7,455.08 631.1,455.08 632.5,455.08 633.9,455.07 635.3,455.07 636.7,455.06 638.1,455.05 639.5,455.04 640.9,455.03 642.3,455.02 643.7,455.01 645.1,455" fill="none" stroke="#a09828" stroke-width="1.0" stroke-opacity="0.7" stroke-linejoin="round"/>
<polyline clip-path="url(#cd)" points="370.7,455 372.1,455 373.5,455 374.9,455 376.3,455 377.7,455 379.1,455 380.5,455 381.9,455 383.3,455 384.7,455 386.1,455 387.5,455 388.9,455 390.3,455 391.7,455 393.1,455 394.5,455 395.9,455 397.3,455 398.7,455 400.1,455 401.5,455 402.9,455 404.3,455 405.7,455 407.1,455 408.5,455 409.9,455 411.3,455.42 412.7,453.43 414.1,454.18 415.5,453.95 416.9,455.52 418.3,455.25 419.7,455.84 421.1,453.16 422.5,454.12 423.9,452.75 425.3,453.21 426.7,453.92 428.1,452.1 429.5,452.31 430.9,453.35 432.3,452.58 433.7,451.06 435.1,451.75 436.5,451.85 437.9,448.52 439.3,450.22 440.7,448.96 442.1,446.87 443.5,445.37 444.9,447.09 446.3,444.35 447.7,442.87 449.1,442.22 450.5,443.99 451.9,442.58 453.3,442.59 454.7,441.67 456.1,440.34 457.5,440.98 458.9,438.24 460.3,437.87 461.7,437.74 463.1,435.96 464.5,435.56 465.9,433.42 467.3,432.54 468.7,429.1 470.1,428.32 471.5,427.13 472.9,425.06 474.3,424.08 475.7,422.08 477.1,420.99 478.5,420.45 479.9,417.88 481.3,416.24 482.7,414.13 484.1,412.81 485.5,413.56 486.9,411.31 488.3,409.88 489.7,407.15 491.1,407.54 492.5,404.22 493.9,403.25 495.3,403.47 496.7,400.5 498.1,398.17 499.5,396.17 500.9,393.78 502.3,389.33 503.7,382.31 505.1,376.05 506.5,371.69 507.9,367.23 509.3,363.27 510.7,362.1 512.1,358.57 513.5,353.6 514.9,351.6 516.3,347.76 517.7,346.51 519.1,342.28 520.5,339.06 521.9,336.63 523.3,335.81 524.7,333.24 526.1,332.42 527.5,330.92 528.9,324.96 530.3,316.39 531.7,307.48 533.1,301.65 534.5,295.45 535.9,280.45 537.3,280 538.7,280 540.1,280 541.5,280 542.9,280 544.3,280 545.7,280 547.1,280 548.5,280 549.9,280 551.3,280 552.7,280 554.1,280 555.5,280 556.9,280 558.3,280 559.7,280 561.1,280 562.5,280 563.9,280 565.3,280 566.7,280 568.1,280 569.5,280 570.9,280 572.3,280 573.7,280 575.1,293.87 576.5,339.97 577.9,382.82 579.3,416.88 580.7,431.38 582.1,438.49 583.5,443.03 584.9,445.85 586.3,447.77 587.7,449.27 589.1,450.38 590.5,451.14 591.9,451.69 593.3,452.13 594.7,452.49 596.1,452.82 597.5,453.15 598.9,453.5 600.3,453.86 601.7,454.2 603.1,454.49 604.5,454.73 605.9,454.88 607.3,454.96 608.7,455.02 610.1,455.07 611.5,455.1 612.9,455.1 614.3,455.1 615.7,455.1 617.1,455.1 618.5,455.1 619.9,455.1 621.3,455.1 622.7,455.09 624.1,455.09 625.5,455.09 626.9,455.08 628.3,455.08 629.7,455.07 631.1,455.07 632.5,455.06 633.9,455.05 635.3,455.04 636.7,455.03 638.1,455.02 639.5,455.01" fill="none" stroke="#d83848" stroke-width="1.0" stroke-opacity="0.55" stroke-linejoin="round"/>
<rect x="370.7" y="292.5" width="274.6" height="174.7" fill="none" stroke="#8a8a8a" stroke-width="1.2"/>
<line x1="368.1" y1="465.34" x2="370.7" y2="465.34" stroke="#5a5a5a" stroke-width="1"/>
<line x1="368.1" y1="460.22" x2="370.7" y2="460.22" stroke="#5a5a5a" stroke-width="1"/>
<line x1="365.7" y1="455.1" x2="370.7" y2="455.1" stroke="#5a5a5a" stroke-width="1"/>
<text x="364.7" y="455.6" text-anchor="end" class="tl" style="font-size:11.2px">0</text>
<line x1="368.1" y1="449.98" x2="370.7" y2="449.98" stroke="#5a5a5a" stroke-width="1"/>
<line x1="368.1" y1="444.86" x2="370.7" y2="444.86" stroke="#5a5a5a" stroke-width="1"/>
<line x1="368.1" y1="439.74" x2="370.7" y2="439.74" stroke="#5a5a5a" stroke-width="1"/>
<line x1="368.1" y1="434.62" x2="370.7" y2="434.62" stroke="#5a5a5a" stroke-width="1"/>
<line x1="365.7" y1="429.5" x2="370.7" y2="429.5" stroke="#5a5a5a" stroke-width="1"/>
<text x="364.7" y="430" text-anchor="end" class="tl" style="font-size:11.2px">10</text>
<line x1="368.1" y1="424.38" x2="370.7" y2="424.38" stroke="#5a5a5a" stroke-width="1"/>
<line x1="368.1" y1="419.26" x2="370.7" y2="419.26" stroke="#5a5a5a" stroke-width="1"/>
<line x1="368.1" y1="414.14" x2="370.7" y2="414.14" stroke="#5a5a5a" stroke-width="1"/>
<line x1="368.1" y1="409.02" x2="370.7" y2="409.02" stroke="#5a5a5a" stroke-width="1"/>
<line x1="365.7" y1="403.9" x2="370.7" y2="403.9" stroke="#5a5a5a" stroke-width="1"/>
<text x="364.7" y="404.4" text-anchor="end" class="tl" style="font-size:11.2px">20</text>
<line x1="368.1" y1="398.78" x2="370.7" y2="398.78" stroke="#5a5a5a" stroke-width="1"/>
<line x1="368.1" y1="393.66" x2="370.7" y2="393.66" stroke="#5a5a5a" stroke-width="1"/>
<line x1="368.1" y1="388.54" x2="370.7" y2="388.54" stroke="#5a5a5a" stroke-width="1"/>
<line x1="368.1" y1="383.42" x2="370.7" y2="383.42" stroke="#5a5a5a" stroke-width="1"/>
<line x1="365.7" y1="378.3" x2="370.7" y2="378.3" stroke="#5a5a5a" stroke-width="1"/>
<text x="364.7" y="378.8" text-anchor="end" class="tl" style="font-size:11.2px">30</text>
<line x1="368.1" y1="373.18" x2="370.7" y2="373.18" stroke="#5a5a5a" stroke-width="1"/>
<line x1="368.1" y1="368.06" x2="370.7" y2="368.06" stroke="#5a5a5a" stroke-width="1"/>
<line x1="368.1" y1="362.94" x2="370.7" y2="362.94" stroke="#5a5a5a" stroke-width="1"/>
<line x1="368.1" y1="357.82" x2="370.7" y2="357.82" stroke="#5a5a5a" stroke-width="1"/>
<line x1="365.7" y1="352.7" x2="370.7" y2="352.7" stroke="#5a5a5a" stroke-width="1"/>
<text x="364.7" y="353.2" text-anchor="end" class="tl" style="font-size:11.2px">40</text>
<line x1="368.1" y1="347.58" x2="370.7" y2="347.58" stroke="#5a5a5a" stroke-width="1"/>
<line x1="368.1" y1="342.46" x2="370.7" y2="342.46" stroke="#5a5a5a" stroke-width="1"/>
<line x1="368.1" y1="337.34" x2="370.7" y2="337.34" stroke="#5a5a5a" stroke-width="1"/>
<line x1="368.1" y1="332.22" x2="370.7" y2="332.22" stroke="#5a5a5a" stroke-width="1"/>
<line x1="365.7" y1="327.1" x2="370.7" y2="327.1" stroke="#5a5a5a" stroke-width="1"/>
<text x="364.7" y="327.6" text-anchor="end" class="tl" style="font-size:11.2px">50</text>
<line x1="368.1" y1="321.98" x2="370.7" y2="321.98" stroke="#5a5a5a" stroke-width="1"/>
<line x1="368.1" y1="316.86" x2="370.7" y2="316.86" stroke="#5a5a5a" stroke-width="1"/>
<line x1="368.1" y1="311.74" x2="370.7" y2="311.74" stroke="#5a5a5a" stroke-width="1"/>
<line x1="368.1" y1="306.62" x2="370.7" y2="306.62" stroke="#5a5a5a" stroke-width="1"/>
<line x1="365.7" y1="301.5" x2="370.7" y2="301.5" stroke="#5a5a5a" stroke-width="1"/>
<text x="364.7" y="302" text-anchor="end" class="tl" style="font-size:11.2px">60</text>
<line x1="368.1" y1="296.38" x2="370.7" y2="296.38" stroke="#5a5a5a" stroke-width="1"/>
<line x1="638.9" y1="467.2" x2="638.9" y2="470.8" stroke="#5a5a5a" stroke-width="1"/>
<line x1="626.95" y1="467.2" x2="626.95" y2="470.8" stroke="#5a5a5a" stroke-width="1"/>
<line x1="615" y1="467.2" x2="615" y2="474.4" stroke="#5a5a5a" stroke-width="1"/>
<text x="615" y="486.5" text-anchor="middle" class="tl" style="font-size:11.2px">280</text>
<line x1="603.05" y1="467.2" x2="603.05" y2="470.8" stroke="#5a5a5a" stroke-width="1"/>
<line x1="591.1" y1="467.2" x2="591.1" y2="470.8" stroke="#5a5a5a" stroke-width="1"/>
<line x1="579.15" y1="467.2" x2="579.15" y2="470.8" stroke="#5a5a5a" stroke-width="1"/>
<line x1="567.2" y1="467.2" x2="567.2" y2="474.4" stroke="#5a5a5a" stroke-width="1"/>
<text x="567.2" y="486.5" text-anchor="middle" class="tl" style="font-size:11.2px">284</text>
<line x1="555.25" y1="467.2" x2="555.25" y2="470.8" stroke="#5a5a5a" stroke-width="1"/>
<line x1="543.3" y1="467.2" x2="543.3" y2="470.8" stroke="#5a5a5a" stroke-width="1"/>
<line x1="531.35" y1="467.2" x2="531.35" y2="470.8" stroke="#5a5a5a" stroke-width="1"/>
<line x1="519.4" y1="467.2" x2="519.4" y2="474.4" stroke="#5a5a5a" stroke-width="1"/>
<text x="519.4" y="486.5" text-anchor="middle" class="tl" style="font-size:11.2px">288</text>
<line x1="507.45" y1="467.2" x2="507.45" y2="470.8" stroke="#5a5a5a" stroke-width="1"/>
<line x1="495.5" y1="467.2" x2="495.5" y2="470.8" stroke="#5a5a5a" stroke-width="1"/>
<line x1="483.55" y1="467.2" x2="483.55" y2="470.8" stroke="#5a5a5a" stroke-width="1"/>
<line x1="471.6" y1="467.2" x2="471.6" y2="474.4" stroke="#5a5a5a" stroke-width="1"/>
<text x="471.6" y="486.5" text-anchor="middle" class="tl" style="font-size:11.2px">292</text>
<line x1="459.65" y1="467.2" x2="459.65" y2="470.8" stroke="#5a5a5a" stroke-width="1"/>
<line x1="447.7" y1="467.2" x2="447.7" y2="470.8" stroke="#5a5a5a" stroke-width="1"/>
<line x1="435.75" y1="467.2" x2="435.75" y2="470.8" stroke="#5a5a5a" stroke-width="1"/>
<line x1="423.8" y1="467.2" x2="423.8" y2="474.4" stroke="#5a5a5a" stroke-width="1"/>
<text x="423.8" y="486.5" text-anchor="middle" class="tl" style="font-size:11.2px">296</text>
<line x1="411.85" y1="467.2" x2="411.85" y2="470.8" stroke="#5a5a5a" stroke-width="1"/>
<line x1="399.9" y1="467.2" x2="399.9" y2="470.8" stroke="#5a5a5a" stroke-width="1"/>
<line x1="387.95" y1="467.2" x2="387.95" y2="470.8" stroke="#5a5a5a" stroke-width="1"/>
<line x1="376" y1="467.2" x2="376" y2="474.4" stroke="#5a5a5a" stroke-width="1"/>
<text x="376" y="486.5" text-anchor="middle" class="tl" style="font-size:11.2px">300</text>
<text x="2.1" y="24.8" class="pl">(a)</text>
<text x="338.5" y="25.2" class="pl">(b)</text>
<text x="2.8" y="275.35" class="pl">(c)</text>
<text x="340" y="275" class="pl">(d)</text>
<text x="178.7" y="15.6" text-anchor="middle" class="tt">C 1s</text>
<text x="509" y="15.8" text-anchor="middle" class="tt">N 1s</text>
<text x="178.7" y="268.2" text-anchor="middle" class="tt">C 1s</text>
<text x="507.5" y="265.7" text-anchor="middle" class="tt">C 1s</text>
<text x="38.2" y="41.4" class="xt">x<tspan dx="2.6">10</tspan><tspan dy="-6.3" class="sup">-3</tspan></text>
<text x="371.8" y="41.8" class="xt">x<tspan dx="2.6">10</tspan><tspan dy="-6.3" class="sup">-2</tspan></text>
<text x="37.3" y="293.3" class="xt">x<tspan dx="2.6">10</tspan><tspan dy="-6.3" class="sup">-3</tspan></text>
<text x="371.1" y="292" class="xt">x<tspan dx="2.6">10</tspan><tspan dy="-6.3" class="sup">-3</tspan></text>
<text transform="translate(13.7,125.6) rotate(-90)" text-anchor="middle" class="ax">CPS</text>
<text transform="translate(347,126.3) rotate(-90)" text-anchor="middle" class="ax">CPS</text>
<text transform="translate(12.8,380.5) rotate(-90)" text-anchor="middle" class="ax">CPS</text>
<text transform="translate(347.4,379.4) rotate(-90)" text-anchor="middle" class="ax">CPS</text>
<clipPath id="cbe"><rect x="0" y="0" width="660" height="244.9"/></clipPath>
<text x="179.5" y="242" text-anchor="middle" class="ax" style="font-size:12.3px">Binding Energy (eV)</text>
<text x="509.7" y="244.2" text-anchor="middle" class="ax" style="font-size:12.0px" clip-path="url(#cbe)">Binding Energy (eV)</text>
<text x="179.2" y="499.7" text-anchor="middle" class="ax" style="font-size:12.3px">Binding Energy (eV)</text>
<text x="507.9" y="499" text-anchor="middle" class="ax" style="font-size:11.85px">Binding Energy (eV)</text>
<text x="40.5" y="53.7" class="lg" fill="#d8303f" stroke="#d8303f">Spool</text>
<text x="40.5" y="66.25" class="lg" fill="#8a8a30" stroke="#8a8a30">7 days</text>
<text x="40.5" y="78.8" class="lg" fill="#c83cdc" stroke="#c83cdc" style="letter-spacing:-0.25px">2 months</text>
<text x="373.6" y="53.5" class="lg" fill="#d8303f" stroke="#d8303f">Spool</text>
<text x="373.6" y="66.05" class="lg" fill="#8a8a30" stroke="#8a8a30">7 days</text>
<text x="373.6" y="78.6" class="lg" fill="#c83cdc" stroke="#c83cdc" style="letter-spacing:-0.25px">2 months</text>
<text x="39.5" y="306" class="lg" fill="#d8303f" stroke="#d8303f">Spool</text>
<text x="39.5" y="318.55" class="lg" fill="#8a8a30" stroke="#8a8a30">Rinsed</text>
<text x="373" y="304.7" class="lg" fill="#d8303f" stroke="#d8303f" style="letter-spacing:-0.25px">2 months</text>
<text x="373" y="317.25" class="lg" fill="#8a8a30" stroke="#8a8a30">Rinsed</text>
<text transform="translate(161.8,119.6) rotate(-90)" text-anchor="middle" class="an">-290.5</text>
<text transform="translate(167.2,369.6) rotate(-90)" text-anchor="middle" class="an">-290.5</text>
<text transform="translate(496.6,371.8) rotate(-90)" text-anchor="middle" class="an">-290.5</text>
</svg>
</body></html>
